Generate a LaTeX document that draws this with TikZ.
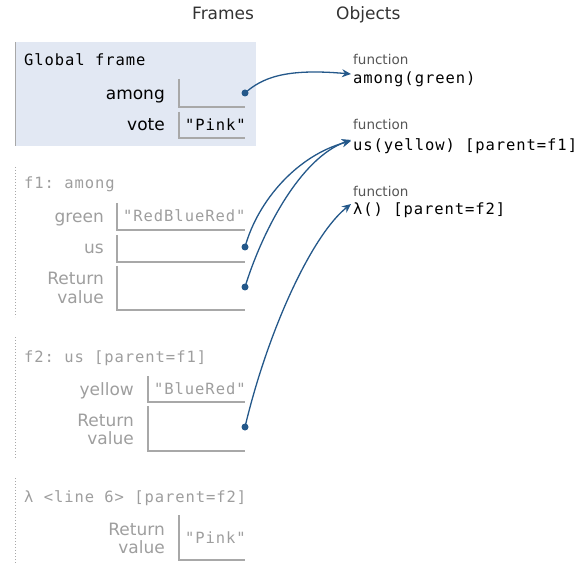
\documentclass[tikz,border=0pt]{standalone}
\usepackage{fontspec}
\setmainfont{DejaVu Sans}
\setmonofont[LetterSpace=6]{DejaVu Sans Mono}
\usetikzlibrary{arrows.meta}
\definecolor{arrowc}{HTML}{24588A}
\definecolor{framebg}{HTML}{E2E8F3}
\definecolor{inact}{HTML}{9E9E9E}
\definecolor{boxline}{HTML}{A8A8A8}
\definecolor{fngray}{HTML}{555555}
\definecolor{hdrc}{HTML}{333333}
\begin{document}
\begin{tikzpicture}[x=1pt,y=-1pt,
  sans/.style={font=\fontsize{17}{19}\selectfont, inner sep=0},
  mono/.style={font=\ttfamily\fontsize{15.5}{18}\selectfont, inner sep=0},
  hdr/.style={sans, anchor=base west, text=hdrc},
  fnlbl/.style={font=\fontsize{13.5}{15}\selectfont, inner sep=0, anchor=base west, text=fngray},
  objcode/.style={mono, anchor=base west, text=black},
  ftitleA/.style={mono, anchor=base west, text=black},
  ftitleI/.style={mono, anchor=base west, text=inact},
  lblA/.style={sans, anchor=base east, text=black},
  lblI/.style={sans, anchor=base east, text=inact},
  valA/.style={mono, anchor=base west, text=black},
  valI/.style={mono, anchor=base west, text=inact},
  slot/.style={draw=boxline, line width=1.2pt},
  fborder/.style={draw=boxline, line width=1pt},
  dborder/.style={draw=boxline, line width=1pt, dotted},
  ptr/.style={draw=arrowc, line width=1.3pt, -{Stealth[length=9pt,width=8pt,inset=3pt]}},
  dot/.style={circle, fill=arrowc, inner sep=0, minimum size=7pt}
]
\useasboundingbox (0,0) rectangle (584,564);

% headers
\node[hdr] (hframes) at (192,20) {Frames};
\node[hdr] (hobjects) at (336,20) {Objects};

% global frame
\fill[framebg] (15,42) rectangle (256,146);
\draw[fborder] (15,42) -- (15,146);
\node[ftitleA] (gtitle) at (24,66) {Global frame};
\node[lblA] (lamong) at (165,100) {among};
\draw[slot] (179,79) -- (179,107) -- (245,107);
\node[dot] (dA) at (245,93) {};
\node[lblA] (lvote) at (165,131) {vote};
\draw[slot] (179,112) -- (179,138) -- (245,138);
\node[valA] (vvote) at (185,131) {"Pink"};

% f1
\draw[dborder] (15,167) -- (15,317);
\node[ftitleI] (f1title) at (24,189) {f1: among};
\node[lblI] (lgreen) at (104,223) {green};
\draw[slot] (117,203) -- (117,230) -- (245,230);
\node[valI] (vgreen) at (123,222) {"RedBlueRed"};
\node[lblI] (lus) at (104,254) {us};
\draw[slot] (117,235) -- (117,262) -- (245,262);
\node[dot] (dUs) at (245,247) {};
\node[lblI] (lret1a) at (104,285) {Return};
\node[lblI] (lret1b) at (104,303) {value};
\draw[slot] (117,266) -- (117,310) -- (245,310);
\node[dot] (dR1) at (245,287) {};

% f2
\draw[dborder] (15,337) -- (15,458);
\node[ftitleI] (f2title) at (24,362) {f2: us [parent=f1]};
\node[lblI] (lyellow) at (134,395) {yellow};
\draw[slot] (148,376) -- (148,402) -- (245,402);
\node[valI] (vyellow) at (154,394) {"BlueRed"};
\node[lblI] (lret2a) at (134,426) {Return};
\node[lblI] (lret2b) at (134,444) {value};
\draw[slot] (148,406) -- (148,451) -- (245,451);
\node[dot] (dR2) at (245,427) {};

% lambda frame
\draw[dborder] (15,478) -- (15,564);
\node[ftitleI] (f3title) at (24,502) {λ <line 6> [parent=f2]};
\node[lblI] (lret3a) at (165,535) {Return};
\node[lblI] (lret3b) at (165,553) {value};
\draw[slot] (179,515) -- (179,560) -- (245,560);
\node[valI] (vret3) at (185,543) {"Pink"};

% objects
\node[fnlbl] (fn1) at (353,65) {function};
\node[objcode] (o1) at (353,84) {among(green)};
\node[fnlbl] (fn2) at (353,130) {function};
\node[objcode] (o2) at (353,151) {us(yellow) [parent=f1]};
\node[fnlbl] (fn3) at (353,197) {function};
\node[objcode] (o3) at (353,215) {λ() [parent=f2]};

% pointers
\draw[ptr] (dA.center) .. controls (262,78) and (285,68) .. ([xshift=-2pt,yshift=-2pt]o1.north west);
\draw[ptr] (dUs.center) .. controls (258,200) and (298,155) .. ([xshift=-2pt,yshift=-2pt]o2.north west);
\draw[ptr] (dR1.center) .. controls (262,232) and (300,158) .. ([xshift=-2pt,yshift=-1pt]o2.north west);
\draw[ptr] (dR2.center) .. controls (268,330) and (312,235) .. ([xshift=-2pt,yshift=-1pt]o3.north west);
\end{tikzpicture}
\end{document}
